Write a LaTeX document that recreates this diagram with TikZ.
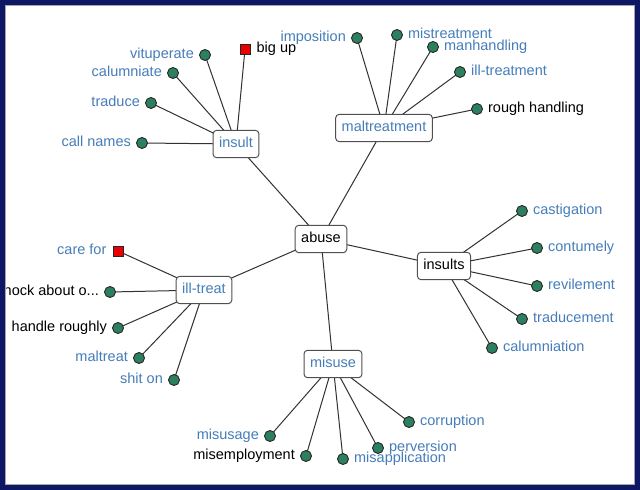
\documentclass[tikz,border=0pt]{standalone}
\usepackage{fontspec}
\setmainfont{Liberation Sans}
\usetikzlibrary{backgrounds}
\definecolor{navy}{RGB}{14,22,102}
\definecolor{txtblue}{RGB}{70,125,185}
\definecolor{dotgreen}{RGB}{45,128,95}
\definecolor{edgegray}{RGB}{50,50,50}
\definecolor{boxgray}{RGB}{80,80,80}
\definecolor{sqred}{RGB}{235,0,0}
\tikzset{
  hub/.style={draw=boxgray, line width=1pt, fill=white, rounded corners=3.5pt,
    inner xsep=6pt, inner ysep=7pt, text height=10.3pt, text depth=3pt, font=\fontsize{14.5pt}{16pt}\selectfont},
  bluehub/.style={hub, text=txtblue},
  blackhub/.style={hub, text=black},
  dot/.style={circle, draw=black!85, line width=0.9pt, fill=dotgreen, minimum size=11pt, inner sep=0pt},
  sq/.style={rectangle, draw=black!85, line width=0.9pt, fill=sqred, minimum size=10pt, inner sep=0pt},
  lbl/.style={inner sep=0pt, font=\fontsize{14.5pt}{16pt}\selectfont, text height=10.3pt, text depth=3pt},
  bl/.style={lbl, text=txtblue},
  bk/.style={lbl, text=black},
  lnk/.style={draw=edgegray, line width=1pt},
}
\begin{document}
\begin{tikzpicture}[x=1pt,y=-1pt]
\useasboundingbox (0,0) rectangle (640,490);
% hubs
\node[blackhub] (abuse) at (321,239) {abuse};
\node[bluehub] (insult) at (236,144) {insult};
\node[bluehub] (maltr) at (384,128) {maltreatment};
\node[blackhub] (insults) at (444,266) {insults};
\node[bluehub] (illtreat) at (204,290) {ill-treat};
\node[bluehub] (misuse) at (333,364) {misuse};
% insult leaves
\node[dot] (vit) at (205,55) {};
\node[bl, anchor=east] (vitL) at ([xshift=-5pt]vit.west) {vituperate};
\node[sq] (big) at (245,49) {};
\node[bk, anchor=west] (bigL) at ([xshift=6pt]big.east) {big up};
\node[dot] (cal) at (173,73) {};
\node[bl, anchor=east] (calL) at ([xshift=-5pt]cal.west) {calumniate};
\node[dot] (trd) at (151,103) {};
\node[bl, anchor=east] (trdL) at ([xshift=-5pt]trd.west) {traduce};
\node[dot] (cn) at (142,143) {};
\node[bl, anchor=east] (cnL) at ([xshift=-5pt]cn.west) {call names};
% maltreatment leaves
\node[dot] (imp) at (357,38) {};
\node[bl, anchor=east] (impL) at ([xshift=-5pt]imp.west) {imposition};
\node[dot] (mist) at (397,35) {};
\node[bl, anchor=west] (mistL) at ([xshift=5pt]mist.east) {mistreatment};
\node[dot] (manh) at (433,47) {};
\node[bl, anchor=west] (manhL) at ([xshift=5pt]manh.east) {manhandling};
\node[dot] (illt) at (460,72) {};
\node[bl, anchor=west] (illtL) at ([xshift=5pt]illt.east) {ill-treatment};
\node[dot] (rough) at (477,109) {};
\node[bk, anchor=west] (roughL) at ([xshift=5pt]rough.east) {rough handling};
% insults leaves
\node[dot] (cast) at (522,211) {};
\node[bl, anchor=west] (castL) at ([xshift=5pt]cast.east) {castigation};
\node[dot] (cont) at (537,248) {};
\node[bl, anchor=west] (contL) at ([xshift=5pt]cont.east) {contumely};
\node[dot] (rev) at (537,286) {};
\node[bl, anchor=west] (revL) at ([xshift=5pt]rev.east) {revilement};
\node[dot] (trdm) at (522,319) {};
\node[bl, anchor=west] (trdmL) at ([xshift=5pt]trdm.east) {traducement};
\node[dot] (calm) at (492,348) {};
\node[bl, anchor=west] (calmL) at ([xshift=5pt]calm.east) {calumniation};
% ill-treat leaves
\node[sq] (care) at (118,251) {};
\node[bl, anchor=east] (careL) at ([xshift=-6pt]care.west) {care for};
\node[dot] (knock) at (110,292) {};
\node[bk, anchor=east] (knockL) at ([xshift=-5pt]knock.west) {knock about o...};
\node[dot] (hand) at (118,328) {};
\node[bk, anchor=east] (handL) at ([xshift=-5pt]hand.west) {handle roughly};
\node[dot] (mtr) at (139,358) {};
\node[bl, anchor=east] (mtrL) at ([xshift=-5pt]mtr.west) {maltreat};
\node[dot] (shit) at (174,380) {};
\node[bl, anchor=east] (shitL) at ([xshift=-5pt]shit.west) {shit on};
% misuse leaves
\node[dot] (musg) at (270,436) {};
\node[bl, anchor=east] (musgL) at ([xshift=-5pt]musg.west) {misusage};
\node[dot] (memp) at (306,456) {};
\node[bk, anchor=east] (mempL) at ([xshift=-5pt]memp.west) {misemployment};
\node[dot] (mapp) at (343,459) {};
\node[bl, anchor=west] (mappL) at ([xshift=5pt]mapp.east) {misapplication};
\node[dot] (perv) at (378,448) {};
\node[bl, anchor=west] (pervL) at ([xshift=5pt]perv.east) {perversion};
\node[dot] (corr) at (409,422) {};
\node[bl, anchor=west] (corrL) at ([xshift=5pt]corr.east) {corruption};
\begin{pgfonlayer}{background}
\fill[white] (0,0) rectangle (640,490);
\foreach \a/\b in {abuse/insult, abuse/maltr, abuse/insults, abuse/illtreat, abuse/misuse,
  insult/vit, insult/big, insult/cal, insult/trd, insult/cn,
  maltr/imp, maltr/mist, maltr/manh, maltr/illt, maltr/rough,
  insults/cast, insults/cont, insults/rev, insults/trdm, insults/calm,
  illtreat/care, illtreat/knock, illtreat/hand, illtreat/mtr, illtreat/shit,
  misuse/musg, misuse/memp, misuse/mapp, misuse/perv, misuse/corr}
  \draw[lnk] (\a.center) -- (\b.center);
\end{pgfonlayer}
% frame
\fill[navy, even odd rule] (0,0) rectangle (640,490) (5,5) rectangle (635,485);
\draw[gray!70, line width=0.8pt] (5.4,5.4) rectangle (634.6,484.6);
\end{tikzpicture}
\end{document}
